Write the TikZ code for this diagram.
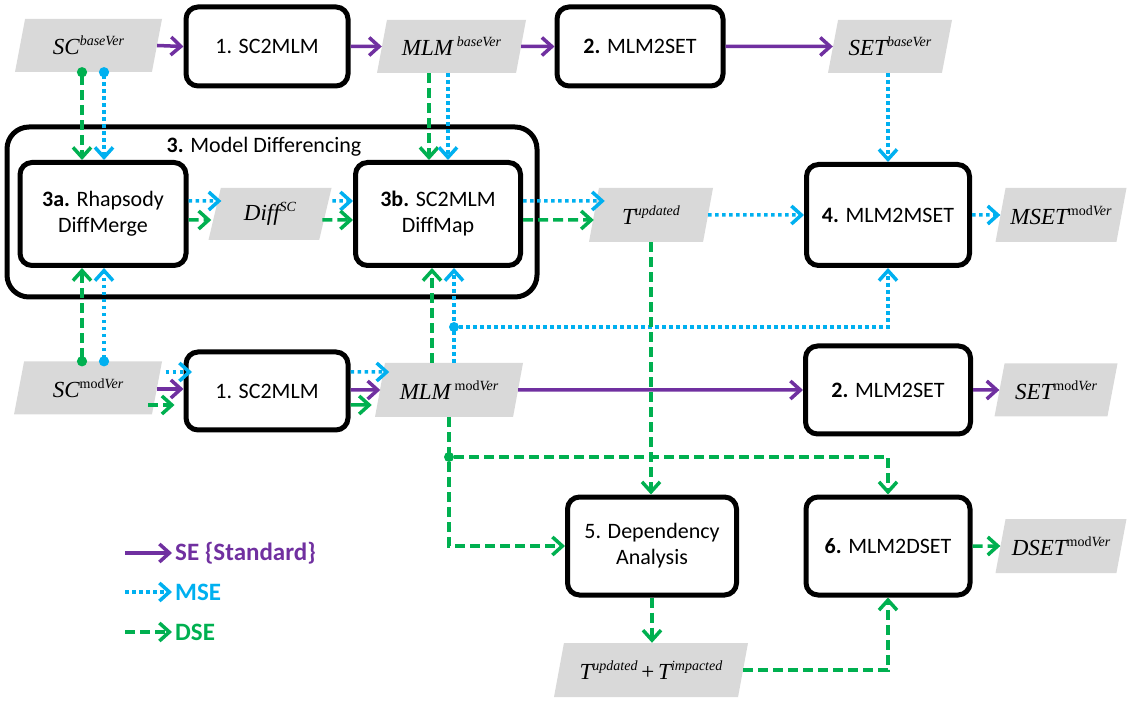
\documentclass[tikz,border=0pt]{standalone}
\usepackage{fontspec}
\setmainfont{Carlito}
\newfontfamily\tnr{Liberation Serif}
\usetikzlibrary{arrows.meta,shapes.geometric}
\definecolor{purp}{HTML}{7030A0}
\definecolor{mseblue}{HTML}{00B0F0}
\definecolor{dsegreen}{HTML}{00B050}
\definecolor{datagray}{HTML}{D9D9D9}
\newcommand\sups[1]{\raisebox{9pt}{\fontsize{14}{14}\selectfont #1}}
\newcommand\lblsize{\fontsize{22}{26}\selectfont}
\newcommand\legsize{\fontsize{25}{30}\selectfont\bfseries}
\begin{document}
\begin{tikzpicture}[x=1pt,y=-1pt,
 proc/.style={draw, line width=5pt, rounded corners=12pt, fill=white, align=center, font=\lblsize, inner sep=0pt},
 data/.style={trapezium, trapezium left angle=62, trapezium right angle=118, trapezium stretches body=true, fill=datagray, inner sep=0pt, font=\tnr\fontsize{23}{26}\selectfont},
 tipb/.style={-{Straight Barb[length=10pt,width=18pt]}},
 sdot/.style={{Circle[length=10pt]}-{Straight Barb[length=10pt,width=18pt]}},
 se/.style={purp, line width=3.5pt, tipb},
 mse/.style={mseblue, line width=3.5pt, dash pattern=on 3.5pt off 3.5pt, tipb},
 dse/.style={dsegreen, line width=3.5pt, dash pattern=on 10pt off 5pt, tipb},
 dsesolid/.style={dsegreen, line width=3.5pt, tipb},
 jdot/.style={circle, fill, inner sep=0pt, minimum size=10pt},
 leg/.style={anchor=west, inner sep=3pt, font=\legsize}
]
\useasboundingbox (0,0) rectangle (1128,703);

% big box
\node[proc, rounded corners=22pt, minimum width=530pt, minimum height=170pt] (B3) at (272,212) {};
\node[font=\lblsize] (t3) at (264,147) {\textbf{3.} Model Differencing};

% top row
\node[data, minimum width=147pt, minimum height=53pt] (SCb) at (88.5,45.5) {\itshape SC\sups{baseVer}};
\node[proc, minimum width=162pt, minimum height=79pt] (B1t) at (267,46.5) {1. SC2MLM};
\node[data, minimum width=149pt, minimum height=53pt] (MLMb) at (451.5,46.5) {\itshape MLM\,\sups{baseVer}};
\node[proc, minimum width=166pt, minimum height=79pt] (B2t) at (640,46.5) {\textbf{2.} MLM2SET};
\node[data, minimum width=124pt, minimum height=53pt] (SETb) at (890,46.5) {\itshape SET\sups{baseVer}};

% middle row
\node[proc, minimum width=166pt, minimum height=103pt] (B3a) at (103,214) {\textbf{3a.} Rhapsody\\DiffMerge};
\node[data, minimum width=123pt, minimum height=52pt] (Diff) at (270,214) {\itshape Diff\sups{SC}};
\node[proc, minimum width=165pt, minimum height=103pt] (B3b) at (438,214) {\textbf{3b.} SC2MLM\\DiffMap};
\node[data, minimum width=124pt, minimum height=54pt] (T) at (651,215) {\itshape T\sups{updated}};
\node[proc, minimum width=163pt, minimum height=101pt] (B4) at (888,215) {\textbf{4.} MLM2MSET};
\node[data, minimum width=131pt, minimum height=54pt] (MSET) at (1061,215) {\itshape MSET\sups{\upshape mod\itshape Ver}};

% third row
\node[data, minimum width=148pt, minimum height=53pt] (SCm) at (88,388) {\itshape SC\sups{\upshape mod\itshape Ver}};
\node[proc, minimum width=162pt, minimum height=78pt] (B1m) at (267,391) {1. SC2MLM};
\node[data, minimum width=148pt, minimum height=54pt] (MLMm) at (449,390) {\itshape MLM\,\sups{\upshape mod\itshape Ver}};
\node[proc, minimum width=165pt, minimum height=88pt] (B2m) at (888,390) {\textbf{2.} MLM2SET};
\node[data, minimum width=123pt, minimum height=53pt] (SETm) at (1056,390) {\itshape SET\sups{\upshape mod\itshape Ver}};

% bottom rows
\node[proc, minimum width=169pt, minimum height=98pt] (B5) at (652,546) {5. Dependency\\Analysis};
\node[proc, minimum width=164pt, minimum height=98pt] (B6) at (888,546) {\textbf{6.} MLM2DSET};
\node[data, minimum width=131pt, minimum height=54pt] (DSET) at (1061,546) {\itshape DSET\sups{\upshape mod\itshape Ver}};
\node[data, minimum width=194pt, minimum height=54pt] (TT) at (651,670) {\itshape T\sups{updated}\,\upshape +\,\itshape T\sups{impacted}};

% junctions
\node[jdot, mseblue] (jb) at (454,327) {};
\node[jdot, dsegreen] (jg) at (449,457) {};

% top row connectors
\draw[se] (SCb.east) -- (B1t.west);
\draw[se] (B1t.east) -- (MLMb.west);
\draw[se] (MLMb.east) -- (B2t.west);
\draw[se] (B2t.east) -- (SETb.west);

\draw[dse, sdot, dsegreen] ([xshift=-6.5pt,yshift=5pt]SCb.south) -- ([xshift=-6.5pt]SCb.south |- B3a.north);
\draw[mse, sdot, mseblue] ([xshift=15.5pt,yshift=5pt]SCb.south) -- ([xshift=15.5pt]SCb.south |- B3a.north);
\draw[dse] ([xshift=-22.5pt]MLMb.south) -- ([xshift=-22.5pt]MLMb.south |- B3b.north);
\draw[mse] ([xshift=-3.5pt]MLMb.south) -- ([xshift=-3.5pt]MLMb.south |- B3b.north);
\draw[mse] (SETb.south -| B4.north) -- (B4.north);

% model differencing
\draw[mse] ([yshift=13pt]B3a.east) -- ([xshift=6.9pt,yshift=13pt]Diff.west);
\draw[dse] ([yshift=-6pt]B3a.east) -- ([xshift=-3.2pt,yshift=-6pt]Diff.west);
\draw[mse] ([xshift=6.9pt,yshift=13pt]Diff.east) -- ([yshift=13pt]B3b.west);
\draw[dse] ([xshift=-3.2pt,yshift=-6pt]Diff.east) -- ([yshift=-6pt]B3b.west);
\draw[mse] ([yshift=13pt]B3b.east) -- ([xshift=11pt,yshift=14pt]T.west);
\draw[dse] ([yshift=-6pt]B3b.east) -- ([xshift=0pt,yshift=-5pt]T.west);
\draw[mse] (T.east) -- (B4.west);
\draw[mse] (B4.east) -- (MSET.west);

% from SC modVer
\draw[dse, sdot, dsegreen] ([xshift=-6pt,yshift=-5pt]SCm.north) -- ([xshift=-6pt]SCm.north |- B3a.south);
\draw[mse, sdot, mseblue] ([xshift=16pt,yshift=-5pt]SCm.north) -- ([xshift=16pt]SCm.north |- B3a.south);
\draw[mse] ([xshift=8.5pt,yshift=16pt]SCm.east) -- ([xshift=8.5pt,yshift=16pt]SCm.east -| B1m.west);
\draw[se] ([yshift=-1pt]SCm.east) -- ([yshift=-1pt]SCm.east -| B1m.west);
\draw[dse] ([xshift=-9pt,yshift=-17pt]SCm.east) -- ([xshift=-9pt,yshift=-17pt]SCm.east -| B1m.west);

\draw[mse] ([yshift=19pt]B1m.east) -- ([xshift=9.5pt,yshift=18pt]MLMm.west);
\draw[se] ([yshift=1pt]B1m.east) -- ([xshift=0.5pt]MLMm.west);
\draw[dsesolid] ([yshift=-14pt]B1m.east) -- ([xshift=-8pt,yshift=-15pt]MLMm.west);

% from MLM modVer
\draw[dse] ([xshift=-17pt]MLMm.north) -- ([xshift=-17pt]MLMm.north |- B3b.south);
\draw[mse] ([xshift=5pt]MLMm.north) -- ([xshift=5pt]MLMm.north |- B3b.south);
\draw[mse] (jb) -| (B4.south);
\draw[se] (MLMm.east) -- (B2m.west);
\draw[se] (B2m.east) -- (SETm.west);

\draw[dse] (T.south) -- (T.south |- B5.north);
\draw[dse] (MLMm.south) |- (B5.west);
\draw[dse] (jg) -| (B6.north);
\draw[dse] (B5.south) -- (B5.south |- TT.north);
\draw[dse] (TT.east) -| (B6.south);
\draw[dse] (B6.east) -- (DSET.west);

% legend
\node[leg, text=purp] (l1) at (172,553) {SE \{Standard\}};
\node[leg, text=mseblue] (l2) at (172,592) {MSE};
\node[leg, text=dsegreen] (l3) at (172,632) {DSE};
\coordinate (l1s) at (125,553);
\coordinate (l2s) at (125,592);
\coordinate (l3s) at (125,632);
\draw[se] (l1s) -- (l1.west);
\draw[mse] (l2s) -- (l2.west);
\draw[dse] (l3s) -- (l3.west);
\end{tikzpicture}
\end{document}
